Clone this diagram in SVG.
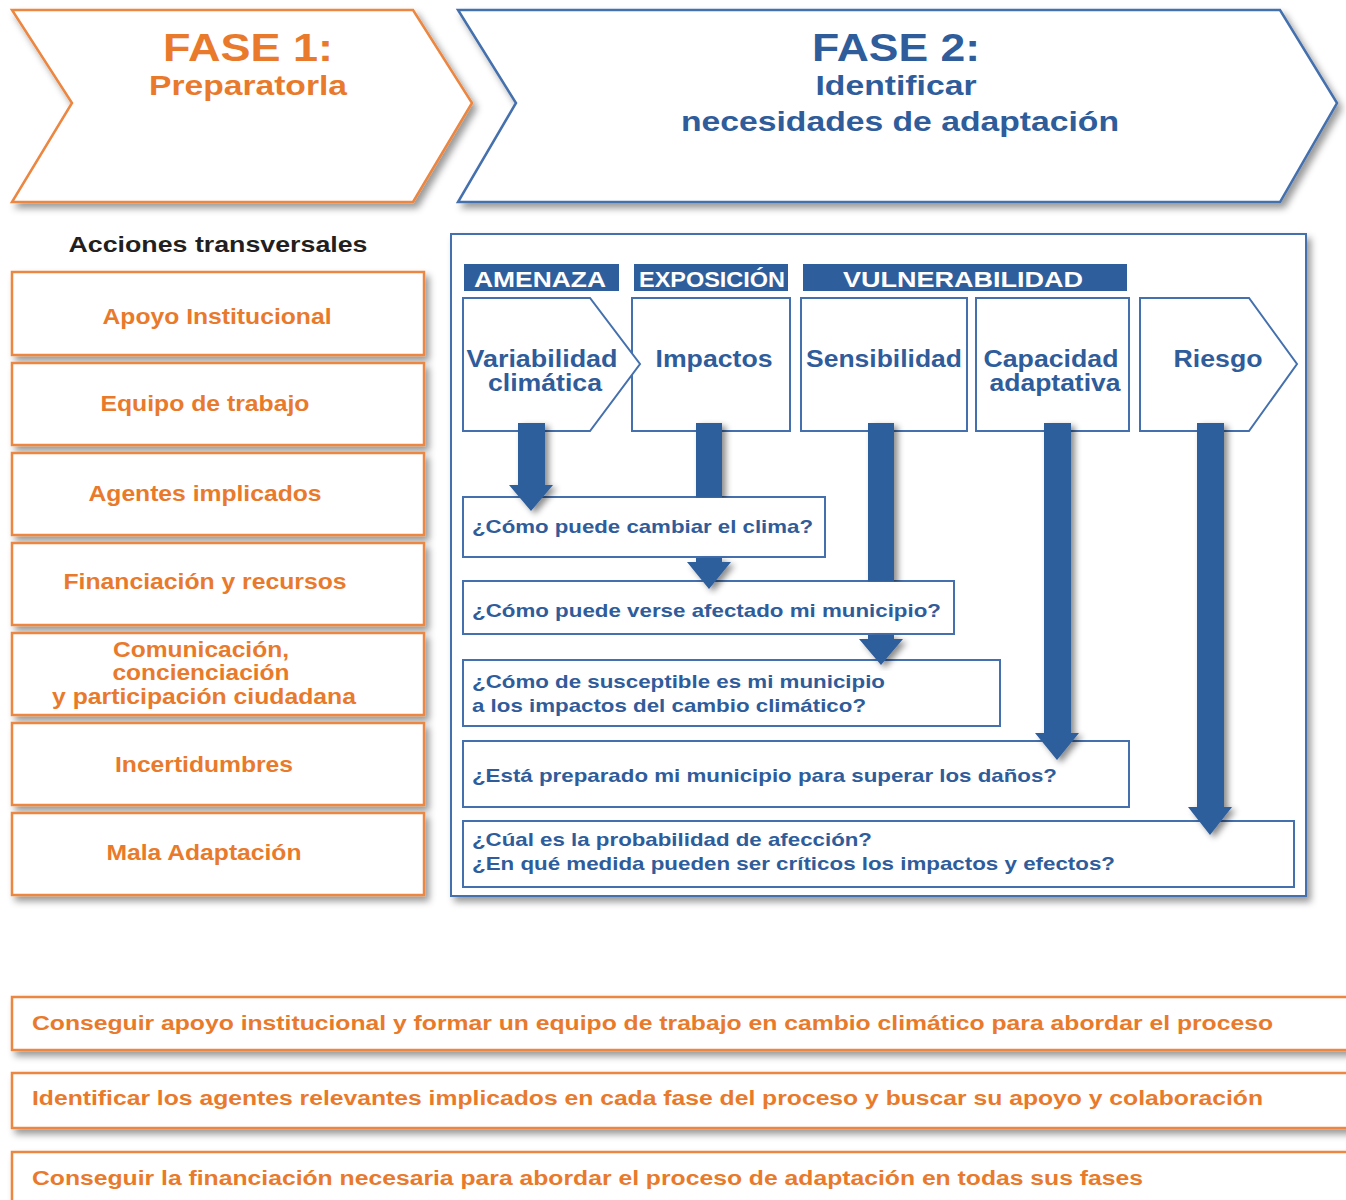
<svg xmlns="http://www.w3.org/2000/svg" width="1346" height="1200" viewBox="0 0 1346 1200">
<defs>
<filter id="sh" x="-10%" y="-10%" width="130%" height="140%">
<feDropShadow dx="4" dy="5" stdDeviation="3.5" flood-color="#000" flood-opacity="0.4"/>
</filter>
<filter id="shA" x="-50%" y="-10%" width="200%" height="130%">
<feDropShadow dx="4" dy="3" stdDeviation="3" flood-color="#000" flood-opacity="0.45"/>
</filter>
<clipPath id="c1"><rect x="0" y="0" width="1346" height="497.5"/></clipPath>
<clipPath id="c2"><rect x="0" y="0" width="1346" height="581.5"/></clipPath>
<style>
text{font-family:"Liberation Sans",Arial,Helvetica,sans-serif;font-weight:bold}
.or{fill:#E97A2C}
.bl{fill:#2F5C9A}
.wt{fill:#fff}
.obox{fill:#fff;stroke:#EC8640;stroke-width:2.5}
.bbox{fill:#fff;stroke:#4470AE;stroke-width:2}
.bbox2{fill:none;stroke:#4470AE;stroke-width:2}
.bar{fill:#2F5E9D}
.arr{fill:#2F5E9D;filter:url(#shA)}
.c{text-anchor:middle}
</style>
</defs>
<rect width="1346" height="1200" fill="#fff"/>

<g id="fase1">
<path d="M12,10 H413 L472,103 L413,202 H12 L72,103 Z" fill="#fff" stroke="#EC8640" stroke-width="2.5" filter="url(#sh)"/>
<text class="or c" x="248" y="61" font-size="38" textLength="170" lengthAdjust="spacingAndGlyphs">FASE 1:</text>
<text class="or c" x="248" y="95" font-size="28" textLength="198" lengthAdjust="spacingAndGlyphs">Preparatorla</text>
</g>

<g id="fase2">
<path d="M458,10 H1280 L1337,103 L1280,202 H458 L516,103 Z" fill="#fff" stroke="#4470AE" stroke-width="2.5" filter="url(#sh)"/>
<text class="bl c" x="896" y="61" font-size="38" textLength="168" lengthAdjust="spacingAndGlyphs">FASE 2:</text>
<text class="bl c" x="896" y="95" font-size="28" textLength="161" lengthAdjust="spacingAndGlyphs">Identificar</text>
<text class="bl c" x="900" y="131" font-size="28" textLength="438" lengthAdjust="spacingAndGlyphs">necesidades de adaptación</text>
</g>

<g id="acciones-title">
<text x="218" y="252" class="c" font-size="22" fill="#231F20" textLength="299" lengthAdjust="spacingAndGlyphs">Acciones transversales</text>
</g>

<g id="apoyo"><rect class="obox" x="12" y="272" width="412" height="83" filter="url(#sh)"/>
<text class="or c" x="217" y="324" font-size="22" textLength="229" lengthAdjust="spacingAndGlyphs">Apoyo Institucional</text></g>
<g id="equipo"><rect class="obox" x="12" y="363" width="412" height="82" filter="url(#sh)"/>
<text class="or c" x="205" y="411" font-size="22" textLength="209" lengthAdjust="spacingAndGlyphs">Equipo de trabajo</text></g>
<g id="agentes"><rect class="obox" x="12" y="453" width="412" height="82" filter="url(#sh)"/>
<text class="or c" x="205" y="501" font-size="22" textLength="233" lengthAdjust="spacingAndGlyphs">Agentes implicados</text></g>
<g id="financiacion"><rect class="obox" x="12" y="543" width="412" height="82" filter="url(#sh)"/>
<text class="or c" x="205" y="589" font-size="22" textLength="283" lengthAdjust="spacingAndGlyphs">Financiación y recursos</text></g>
<g id="comunicacion"><rect class="obox" x="12" y="633" width="412" height="82" filter="url(#sh)"/>
<text class="or c" x="201" y="657" font-size="22" textLength="176" lengthAdjust="spacingAndGlyphs">Comunicación,</text>
<text class="or c" x="201" y="680" font-size="22" textLength="177" lengthAdjust="spacingAndGlyphs">concienciación</text>
<text class="or c" x="204" y="704" font-size="22" textLength="304" lengthAdjust="spacingAndGlyphs">y participación ciudadana</text></g>
<g id="incertidumbres"><rect class="obox" x="12" y="723" width="412" height="82" filter="url(#sh)"/>
<text class="or c" x="204" y="772" font-size="22" textLength="178" lengthAdjust="spacingAndGlyphs">Incertidumbres</text></g>
<g id="mala"><rect class="obox" x="12" y="813" width="412" height="82" filter="url(#sh)"/>
<text class="or c" x="204" y="860" font-size="22" textLength="195" lengthAdjust="spacingAndGlyphs">Mala Adaptación</text></g>

<g id="panel"><rect x="451" y="234" width="855" height="662" fill="#fff" stroke="#4470AE" stroke-width="2" filter="url(#sh)"/></g>

<g id="amenaza"><rect class="bar" x="464" y="264" width="155" height="27"/>
<text class="wt c" x="540" y="287" font-size="22" textLength="132" lengthAdjust="spacingAndGlyphs">AMENAZA</text></g>
<g id="exposicion"><rect class="bar" x="634" y="264" width="154" height="27"/>
<text class="wt c" x="712" y="287" font-size="22" textLength="146" lengthAdjust="spacingAndGlyphs">EXPOSICIÓN</text></g>
<g id="vulnerabilidad"><rect class="bar" x="803" y="264" width="324" height="27"/>
<text class="wt c" x="963" y="287" font-size="22" textLength="240" lengthAdjust="spacingAndGlyphs">VULNERABILIDAD</text></g>

<g id="impactos"><rect class="bbox" x="632" y="298" width="158" height="133"/>
<text class="bl c" x="714" y="367" font-size="23" textLength="117" lengthAdjust="spacingAndGlyphs">Impactos</text></g>
<g id="variabilidad"><path class="bbox" d="M463,298 H590 L640,364 L590,431 H463 Z"/>
<text class="bl c" x="542" y="367" font-size="23" textLength="151" lengthAdjust="spacingAndGlyphs">Variabilidad</text>
<text class="bl c" x="545" y="391" font-size="23" textLength="114" lengthAdjust="spacingAndGlyphs">climática</text></g>
<g id="sensibilidad"><rect class="bbox" x="801" y="298" width="166" height="133"/>
<text class="bl c" x="884" y="367" font-size="23" textLength="156" lengthAdjust="spacingAndGlyphs">Sensibilidad</text></g>
<g id="capacidad"><rect class="bbox" x="976" y="298" width="153" height="133"/>
<text class="bl c" x="1051" y="367" font-size="23" textLength="135" lengthAdjust="spacingAndGlyphs">Capacidad</text>
<text class="bl c" x="1055" y="391" font-size="23" textLength="131" lengthAdjust="spacingAndGlyphs">adaptativa</text></g>
<g id="riesgo"><path class="bbox" d="M1140,298 H1249 L1297,364 L1249,431 H1140 Z"/>
<text class="bl c" x="1218" y="367" font-size="23" textLength="89" lengthAdjust="spacingAndGlyphs">Riesgo</text></g>

<g id="q1"><rect class="bbox" x="463" y="497" width="362" height="60"/>
<text class="bl" x="472" y="533" font-size="19" textLength="341" lengthAdjust="spacingAndGlyphs">¿Cómo puede cambiar el clima?</text></g>
<g id="q2"><rect class="bbox" x="463" y="581" width="491" height="53"/>
<text class="bl" x="472" y="617" font-size="19" textLength="469" lengthAdjust="spacingAndGlyphs">¿Cómo puede verse afectado mi municipio?</text></g>
<g id="q3"><rect class="bbox" x="463" y="660" width="537" height="66"/>
<text class="bl" x="472" y="688" font-size="19" textLength="413" lengthAdjust="spacingAndGlyphs">¿Cómo de susceptible es mi municipio</text>
<text class="bl" x="472" y="712" font-size="19" textLength="394" lengthAdjust="spacingAndGlyphs">a los impactos del cambio climático?</text></g>
<g id="q4"><rect class="bbox" x="463" y="741" width="666" height="66"/>
<text class="bl" x="472" y="782" font-size="19" textLength="585" lengthAdjust="spacingAndGlyphs">¿Está preparado mi municipio para superar los daños?</text></g>
<g id="q5"><rect class="bbox" x="463" y="821" width="831" height="66"/>
<text class="bl" x="472" y="846" font-size="19" textLength="400" lengthAdjust="spacingAndGlyphs">¿Cúal es la probabilidad de afección?</text>
<text class="bl" x="472" y="870" font-size="19" textLength="643" lengthAdjust="spacingAndGlyphs">¿En qué medida pueden ser críticos los impactos y efectos?</text></g>

<g id="connectors">
<path class="arr" d="M518,423 H545 V485 H553 L531,511 L509,485 H518 Z"/>
<g clip-path="url(#c1)"><path class="arr" d="M696,423 H722 V520 H696 Z"/></g>
<path class="arr" d="M696,558 H722 V562 H731 L709,589 L687,562 H696 Z"/>
<g clip-path="url(#c2)"><path class="arr" d="M868,423 H894 V600 H868 Z"/></g>
<path class="arr" d="M868,635 H894 V639 H903 L881,665 L859,639 H868 Z"/>
<path class="arr" d="M1044,423 H1071 V733 H1079 L1057,760 L1035,733 H1044 Z"/>
<path class="arr" d="M1197,423 H1224 V807 H1232 L1210,835 L1188,807 H1197 Z"/>
</g>

<g id="b1"><rect class="obox" x="12" y="997" width="1350" height="53" filter="url(#sh)"/>
<text class="or" x="32" y="1030" font-size="20" textLength="1241" lengthAdjust="spacingAndGlyphs">Conseguir apoyo institucional y formar un equipo de trabajo en cambio climático para abordar el proceso</text></g>
<g id="b2"><rect class="obox" x="12" y="1073" width="1350" height="55" filter="url(#sh)"/>
<text class="or" x="32" y="1105" font-size="20" textLength="1231" lengthAdjust="spacingAndGlyphs">Identificar los agentes relevantes implicados en cada fase del proceso y buscar su apoyo y colaboración</text></g>
<g id="b3"><rect class="obox" x="12" y="1152" width="1350" height="60" filter="url(#sh)"/>
<text class="or" x="32" y="1185" font-size="20" textLength="1111" lengthAdjust="spacingAndGlyphs">Conseguir la financiación necesaria para abordar el proceso de adaptación en todas sus fases</text></g>
</svg>
